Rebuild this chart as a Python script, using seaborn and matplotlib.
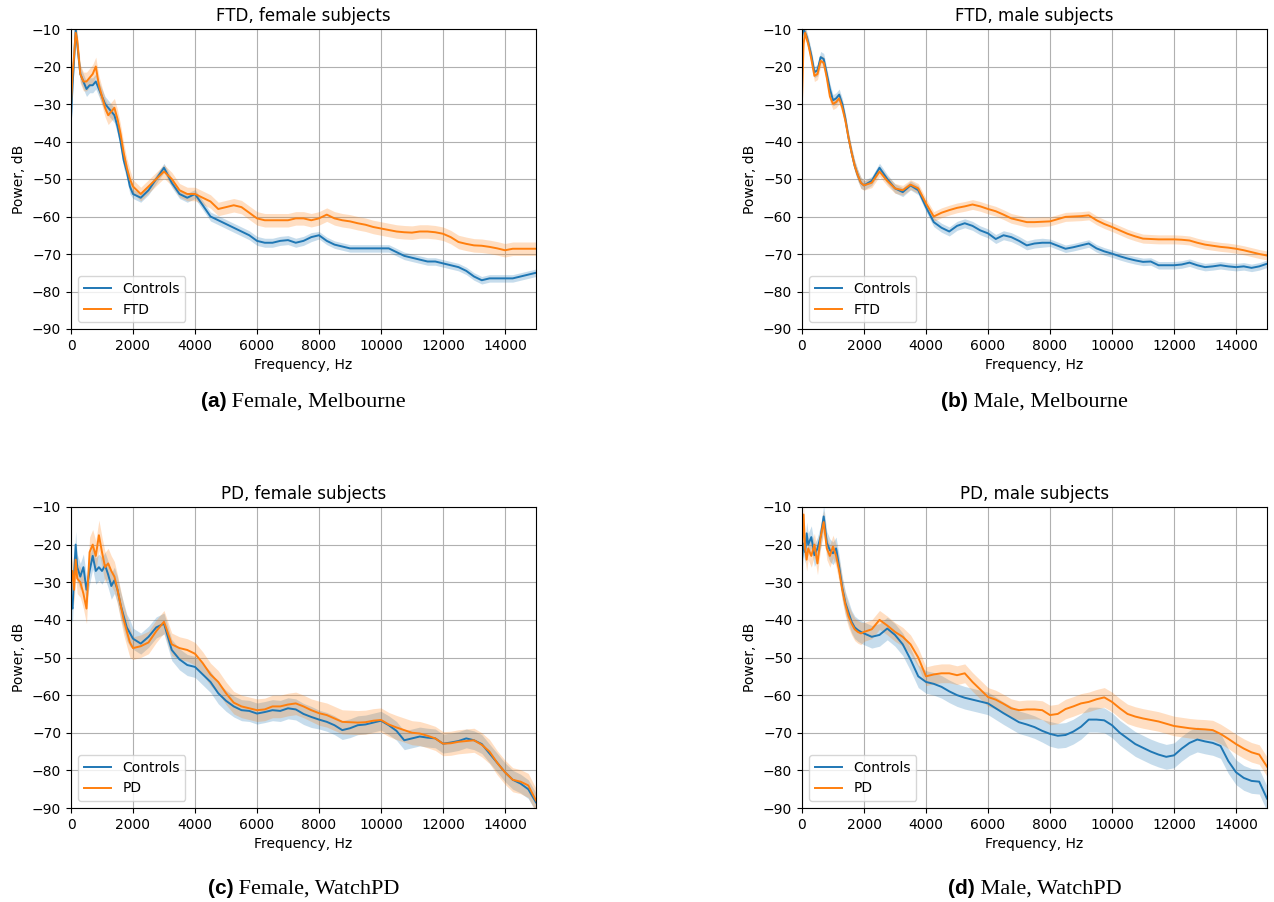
import numpy as np
import pandas as pd
import matplotlib
matplotlib.use("Agg")
import matplotlib.pyplot as plt
import seaborn as sns

# ---------------- data ----------------
FREQ = [0, 50, 100, 150, 200, 300, 400, 500, 600, 700, 800, 900, 1000, 1100, 1200,
        1300, 1400, 1500, 1600, 1700, 1800, 1900, 2000,
        2250, 2500, 2750, 3000, 3250, 3500, 3750, 4000, 4250, 4500, 4750, 5000,
        5250, 5500, 5750, 6000, 6250, 6500, 6750, 7000, 7250, 7500, 7750, 8000,
        8250, 8500, 8750, 9000, 9250, 9500, 9750, 10000, 10250, 10500, 10750, 11000,
        11250, 11500, 11750, 12000, 12250, 12500, 12750, 13000, 13250, 13500, 13750,
        14000, 14250, 14500, 14750, 15000]

# (a) FTD, female
A_CONTROLS = [-34, -25, -18, -10, -14, -22, -24, -26, -25, -25, -24, -26, -28, -30, -31,
              -32, -33, -36, -40, -45, -48, -52, -54,
              -55, -53, -50, -47, -51, -54, -55, -54, -57, -60, -61, -62,
              -63, -64, -65, -66.5, -67, -67, -66.5, -66.3, -67, -66.5, -65.5, -65,
              -66.5, -67.5, -68, -68.5, -68.5, -68.5, -68.5, -68.5, -68.5, -69.5, -70.5, -71,
              -71.5, -72, -72, -72.5, -73, -73.5, -74.5, -76, -77, -76.5, -76.5,
              -76.5, -76.5, -76, -75.5, -75]
A_FTD = [-30, -22, -17, -11, -13, -22, -24, -24, -23, -22, -20, -25, -28, -31, -33,
         -32, -31, -34, -38, -43, -47, -50, -52,
         -54, -52, -50, -48, -50, -53, -54, -54, -55, -56, -58, -57.5,
         -57, -57.5, -59, -60.5, -61, -61, -61, -61, -60.5, -60.5, -61, -60.5,
         -59.5, -60.5, -61, -61.3, -61.8, -62.2, -62.8, -63.2, -63.6, -64, -64.2, -64.3,
         -64, -64, -64.2, -64.6, -65.5, -66.8, -67.3, -67.7, -67.8, -68.1, -68.5,
         -69, -68.6, -68.6, -68.6, -68.6]

# (b) FTD, male
B_CONTROLS = [-12, -10, -11, -12, -13.5, -17, -21.5, -21, -17.5, -18, -22, -26, -29, -28.5, -27.5,
              -30, -34, -39, -43, -46.5, -49, -51, -51.7,
              -50.5, -47, -50, -52.5, -53.5, -51.7, -53, -57.5, -61.5, -63, -64, -62.5,
              -61.8, -62.5, -63.7, -64.5, -66, -65, -65.5, -66.5, -67.7, -67.2, -67, -67,
              -67.8, -68.6, -68.2, -67.7, -67.2, -68.5, -69.3, -69.9, -70.6, -71.2, -71.7, -72.1,
              -72, -73, -73, -73, -72.8, -72.3, -73, -73.5, -73.3, -73, -73.3,
              -73.5, -73.3, -73.7, -73.3, -72.6]
B_FTD = [-29, -14, -11, -12.5, -14, -18, -22.5, -22, -18.5, -19, -23, -28, -30, -29.5, -28.5,
         -31, -34.5, -39, -43, -46.5, -49, -51, -51.7,
         -51, -48, -50.5, -52.5, -53, -51.5, -52.5, -56.5, -60, -59, -58.3, -57.7,
         -57.3, -56.8, -57.3, -58, -58.6, -59.5, -60.5, -61, -61.5, -61.5, -61.4, -61.3,
         -60.7, -60.1, -60, -59.9, -59.7, -61, -62, -62.8, -63.7, -64.6, -65.3, -65.9,
         -66, -66.1, -66.1, -66.1, -66.2, -66.4, -67, -67.5, -67.8, -68.1, -68.3,
         -68.6, -69, -69.5, -70, -70.4]

# (c) PD, female
C_CONTROLS = [-36, -37, -28, -20, -26, -28.5, -26, -32, -27, -23, -27, -26, -27, -25.5, -28,
              -31, -29.5, -32, -36, -39, -42, -43.5, -45,
              -46.3, -44.5, -42, -41, -48, -50.5, -52, -52.5, -54.5, -56.5, -59.5, -61.5,
              -63, -64, -64.2, -64.9, -64.5, -64, -64.2, -63.5, -63.8, -65, -65.8, -66.5,
              -67.1, -68, -69.3, -68.8, -68, -67.8, -67.3, -66.8, -68, -69.5, -72, -71.5,
              -71, -71.3, -71.5, -72.9, -72.6, -72.2, -71.5, -72, -73, -75.5, -78,
              -80.5, -82.5, -83.5, -85, -88.5]
C_PD = [-30, -27, -32, -24, -29, -30, -33, -37, -22, -20, -23, -17.5, -22, -26, -25,
        -27, -28.5, -32, -36, -40, -43, -46, -47.5,
        -47, -46, -43, -40.5, -46.5, -47.5, -48, -49, -51.5, -54.5, -56.5, -59.5,
        -62, -63, -63.5, -64, -63.8, -63, -63, -62.5, -62.2, -63, -64, -64.8,
        -65.3, -66.2, -67.1, -67.2, -67.3, -67.2, -66.8, -66.6, -67.8, -68.6, -69.3, -70,
        -70.2, -70.8, -71.5, -72.9, -72.8, -72.4, -72.2, -72, -73.2, -75, -78,
        -80.5, -82.5, -83, -84, -88]

# (d) PD, male
D_CONTROLS = [-24, -19.7, -22, -17, -20, -18, -22.8, -21, -17.9, -12.5, -19.5, -21.5, -22.3, -21, -26,
              -31.5, -35.5, -38, -40.5, -42, -42.7, -43.2, -43.6,
              -44.5, -44, -42.3, -44, -46.5, -50.5, -55, -56.5, -57, -57.8, -59, -60,
              -60.7, -61.2, -61.7, -62.2, -63.5, -64.8, -66, -67.2, -67.8, -68.5, -69.5, -70.3,
              -70.8, -70.6, -69.7, -68.4, -66.5, -66.5, -66.7, -68, -70, -71.5, -73, -74,
              -75, -75.8, -76.4, -76, -74.2, -72.7, -71.8, -72.3, -72.7, -73.5, -77.5,
              -80.5, -82, -82.8, -83, -87.5]
D_PD = [-22, -12, -21, -24, -21, -23, -20, -25, -18, -14, -21, -23, -20.5, -23, -27,
        -32, -36, -39, -41, -42.5, -43.2, -43.6, -43.2,
        -42.5, -40, -41.5, -43.2, -44.5, -46.5, -50, -55, -54.5, -54.2, -54.2, -54.7,
        -54.2, -56.5, -58.5, -60.5, -61.2, -62.3, -63.5, -64, -63.8, -63.8, -64, -65.3,
        -65, -63.7, -63, -62.2, -61.8, -61.1, -60.6, -61.8, -63.5, -65, -65.7, -66.2,
        -66.6, -67, -67.6, -68.2, -68.5, -68.8, -69, -69.1, -69.3, -70.3, -71.6,
        -73, -74.2, -75.2, -75.8, -79]

# band half-widths (dB) for f<2000, 2000<=f<8000, f>=8000
A_BAND = {"Controls": (2.0, 1.2, 1.0), "FTD": (2.5, 1.8, 1.8)}
B_BAND = {"Controls": (1.5, 1.2, 1.0), "FTD": (1.5, 1.3, 1.2)}
C_BAND = {"Controls": (3.5, 2.8, 2.5), "PD": (4.0, 3.0, 3.2)}
D_BAND = {"Controls": (3.0, 3.0, 3.3), "PD": (3.0, 2.5, 2.6)}

TITLES = ["FTD, female subjects", "FTD, male subjects",
          "PD, female subjects", "PD, male subjects"]
CAP_TAGS = ["(a)", "(b)", "(c)", "(d)"]
CAP_TEXTS = [" Female, Melbourne", " Male, Melbourne", " Female, WatchPD", " Male, WatchPD"]

PANELS = [
    {"Controls": A_CONTROLS, "FTD": A_FTD},
    {"Controls": B_CONTROLS, "FTD": B_FTD},
    {"Controls": C_CONTROLS, "PD": C_PD},
    {"Controls": D_CONTROLS, "PD": D_PD},
]
BANDS = [A_BAND, B_BAND, C_BAND, D_BAND]

COLORS = ["#1f77b4", "#ff7f0e"]

# ---------------- figure ----------------
W, H = 1274, 902
fig = plt.figure(figsize=(W / 100, H / 100), dpi=100)

axes_px = [(71, 29, 465, 300), (802, 29, 465, 300),
           (71, 507, 465, 301), (802, 507, 465, 301)]

freq = np.array(FREQ, dtype=float)

for i, (series, bands) in enumerate(zip(PANELS, BANDS)):
    x0, y0, w, h = axes_px[i]
    ax = fig.add_axes([x0 / W, 1 - (y0 + h) / H, w / W, h / H])
    for (name, vals), col in zip(series.items(), COLORS):
        vals = np.array(vals, dtype=float)
        lo, mid, hi = bands[name]
        err = np.where(freq < 2000, lo, np.where(freq < 8000, mid, hi))
        ax.fill_between(freq, vals - err, vals + err, color=col, alpha=0.25, lw=0)
        df = pd.DataFrame({"freq": freq, "power": vals})
        sns.lineplot(data=df, x="freq", y="power", color=col, lw=1.4,
                     label=name, ax=ax)
    ax.set_xlim(0, 15000)
    ax.set_ylim(-90, -10)
    ax.set_xticks(np.arange(0, 15000, 2000))
    ax.set_yticks(np.arange(-90, -9, 10))
    ax.grid(True, color="#b0b0b0", lw=0.8)
    ax.set_axisbelow(True)
    ax.tick_params(labelsize=10)
    ax.set_xlabel("Frequency, Hz", fontsize=10)
    ax.set_ylabel("Power, dB", fontsize=10)
    ax.set_title(TITLES[i], fontsize=12)
    ax.legend(loc="lower left", fontsize=10)
    for s in ax.spines.values():
        s.set_color("black")
        s.set_linewidth(0.8)

# captions: bold sans tag + serif text, centered under each axes
renderer = fig.canvas.get_renderer()
cap_baselines = [407, 407, 894, 894]
for i in range(4):
    x0, y0, w, h = axes_px[i]
    cx = x0 + w / 2
    yb = 1 - cap_baselines[i] / H
    t1 = fig.text(0, yb, CAP_TAGS[i], fontsize=15, fontweight="bold",
                  family="Liberation Sans", va="baseline", ha="left")
    t2 = fig.text(0, yb, CAP_TEXTS[i], fontsize=16, family="Liberation Serif",
                  va="baseline", ha="left")
    w1 = t1.get_window_extent(renderer).width
    w2 = t2.get_window_extent(renderer).width
    start = cx - (w1 + w2) / 2
    t1.set_x(start / W)
    t2.set_x((start + w1) / W)

fig.savefig("out.png", dpi=100)
